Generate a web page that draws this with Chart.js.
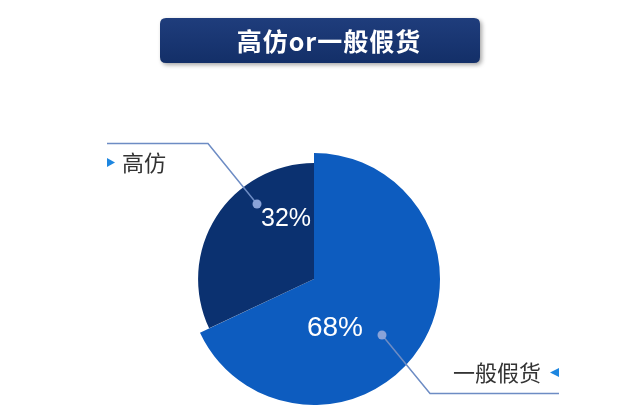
<!DOCTYPE html>
<html>
<head>
<meta charset="utf-8">
<script src="https://cdn.jsdelivr.net/npm/chart.js@4/dist/chart.umd.min.js"></script>
<style>
  html, body { margin: 0; padding: 0; background: #ffffff; }
  #wrap { width: 640px; height: 417px; position: relative; }
</style>
</head>
<body>
<div id="wrap"><canvas id="c"></canvas></div>
<script>
const titleText = '高仿or一般假货';
const categories = ['一般假货', '高仿'];
const values = [68, 32];
const valueLabels = ['68%', '32%'];
const sliceColors = ['#0d5cbf', '#0b3170'];

function roundRect(ctx, x, y, w, h, r) {
  ctx.beginPath();
  ctx.moveTo(x + r, y);
  ctx.lineTo(x + w - r, y);
  ctx.quadraticCurveTo(x + w, y, x + w, y + r);
  ctx.lineTo(x + w, y + h - r);
  ctx.quadraticCurveTo(x + w, y + h, x + w - r, y + h);
  ctx.lineTo(x + r, y + h);
  ctx.quadraticCurveTo(x, y + h, x, y + h - r);
  ctx.lineTo(x, y + r);
  ctx.quadraticCurveTo(x, y, x + r, y);
  ctx.closePath();
}

const shrinkPlugin = {
  id: 'shrink',
  afterDatasetUpdate(chart, args) {
    const meta = chart.getDatasetMeta(args.index);
    const arc = meta.data[1];
    if (arc) arc.outerRadius = arc.outerRadius * 0.92;
  }
};

const decorPlugin = {
  id: 'decor',
  afterDraw(chart) {
    const ctx = chart.ctx;
    const arc0 = chart.getDatasetMeta(0).data[0];
    const cx = arc0.x, cy = arc0.y, R = arc0.outerRadius;
    ctx.save();
    // Title box
    ctx.shadowColor = 'rgba(0,0,0,0.35)';
    ctx.shadowBlur = 4;
    ctx.shadowOffsetX = 2;
    ctx.shadowOffsetY = 2;
    const g = ctx.createLinearGradient(0, 18, 0, 63);
    g.addColorStop(0, '#1f3d7c');
    g.addColorStop(1, '#132f68');
    ctx.fillStyle = g;
    roundRect(ctx, 160, 18, 320, 45, 6);
    ctx.fill();
    ctx.shadowColor = 'transparent';
    ctx.fillStyle = '#ffffff';
    ctx.font = 'bold 25px "Noto Sans CJK SC"';
    ctx.textAlign = 'center';
    ctx.textBaseline = 'middle';
    ctx.letterSpacing = '1px';
    ctx.fillText(titleText, 329, 41);
    ctx.letterSpacing = '0px';

    // value labels inside slices
    ctx.fillStyle = '#ffffff';
    ctx.font = '28px "Liberation Sans"';
    ctx.fillText(valueLabels[0], cx + 21, cy + 49);
    ctx.font = '25px "Liberation Sans"';
    ctx.fillText(valueLabels[1], cx - 28, cy - 60);

    // leader lines
    ctx.strokeStyle = '#6d8cc4';
    ctx.lineWidth = 1.5;
    ctx.beginPath();
    ctx.moveTo(107, 143.5);
    ctx.lineTo(208, 143.5);
    ctx.lineTo(cx - 57, cy - 75);
    ctx.stroke();
    ctx.beginPath();
    ctx.moveTo(cx + 68, cy + 56);
    ctx.lineTo(430, 393.5);
    ctx.lineTo(559, 393.5);
    ctx.stroke();
    ctx.fillStyle = '#8aa3d8';
    ctx.beginPath();
    ctx.arc(cx - 57, cy - 75, 4.5, 0, Math.PI * 2);
    ctx.fill();
    ctx.beginPath();
    ctx.arc(cx + 68, cy + 56, 4.5, 0, Math.PI * 2);
    ctx.fill();

    // category labels
    ctx.fillStyle = '#333333';
    ctx.font = '22px "Noto Sans CJK SC"';
    ctx.textAlign = 'left';
    ctx.fillText(categories[1], 122, 163);
    ctx.textAlign = 'right';
    ctx.fillText(categories[0], 541, 373);

    // triangles
    ctx.fillStyle = '#1d86e0';
    ctx.beginPath();
    ctx.moveTo(107, 158);
    ctx.lineTo(115, 162.5);
    ctx.lineTo(107, 167);
    ctx.closePath();
    ctx.fill();
    ctx.beginPath();
    ctx.moveTo(559, 368);
    ctx.lineTo(550, 372.5);
    ctx.lineTo(559, 377);
    ctx.closePath();
    ctx.fill();
    ctx.restore();
  }
};

new Chart(document.getElementById('c'), {
  type: 'pie',
  data: {
    labels: categories,
    datasets: [{
      data: values,
      backgroundColor: sliceColors,
      borderWidth: 0,
      hoverOffset: 0
    }]
  },
  options: {
    responsive: true,
    maintainAspectRatio: false,
    animation: false,
    rotation: 0,
    layout: { padding: { left: 188, right: 200, top: 153, bottom: 12 } },
    plugins: {
      legend: { display: false },
      tooltip: { enabled: false },
      title: { display: false }
    }
  },
  plugins: [shrinkPlugin, decorPlugin]
});
</script>
</body>
</html>
